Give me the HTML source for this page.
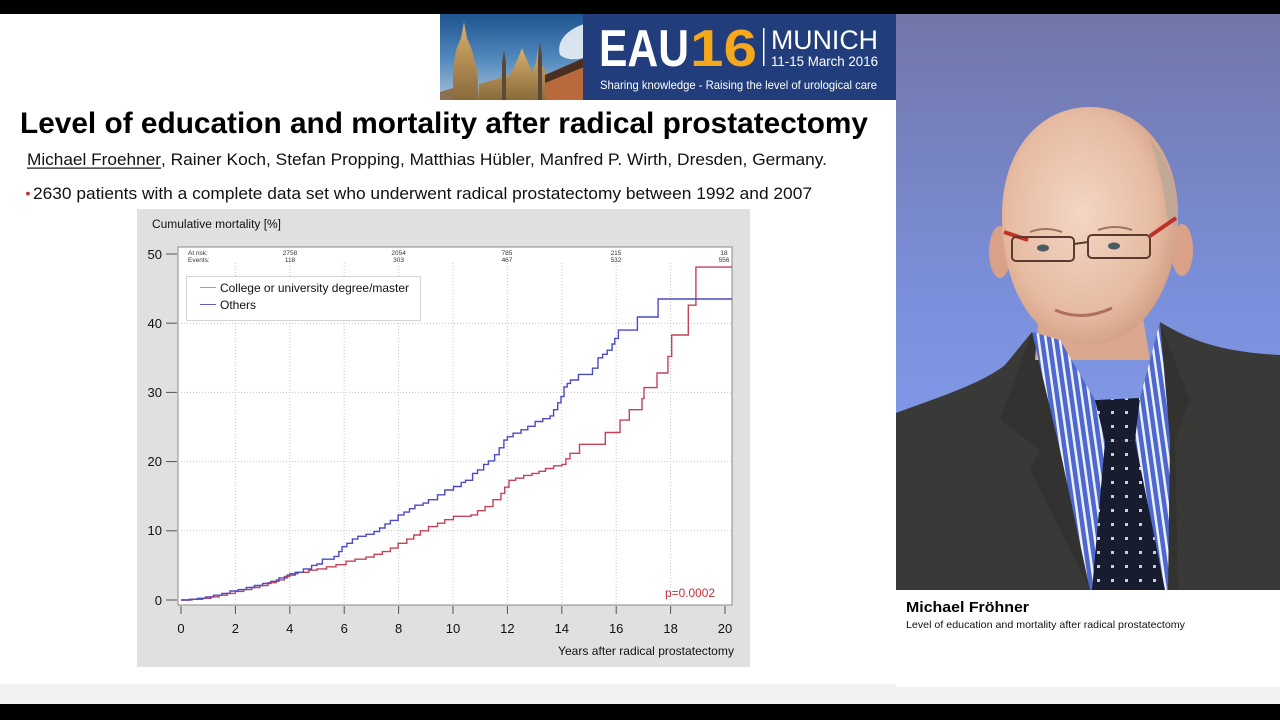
<!DOCTYPE html>
<html><head><meta charset="utf-8"><style>
html,body{margin:0;padding:0;width:1280px;height:720px;overflow:hidden;background:#000;}
svg{display:block;}
</style></head><body>
<svg width="1280" height="720" viewBox="0 0 1280 720" xmlns="http://www.w3.org/2000/svg" font-family="Liberation Sans, Arial, sans-serif">
<defs>
<linearGradient id="sky" x1="0" y1="0" x2="0" y2="1"><stop offset="0" stop-color="#1f5590"/><stop offset="0.5" stop-color="#4f86bb"/><stop offset="1" stop-color="#a8c2da"/></linearGradient>
<linearGradient id="gold" x1="0" y1="0" x2="0" y2="1"><stop offset="0" stop-color="#d9b06a"/><stop offset="1" stop-color="#8a6a3c"/></linearGradient>
<linearGradient id="bg" x1="0" y1="0" x2="0" y2="1"><stop offset="0" stop-color="#7276a8"/><stop offset="0.5" stop-color="#7b90dc"/><stop offset="1" stop-color="#86a2f4"/></linearGradient>
<radialGradient id="skin" cx="0.45" cy="0.45" r="0.6"><stop offset="0" stop-color="#f3d6c4"/><stop offset="0.7" stop-color="#e6bba2"/><stop offset="1" stop-color="#cf9b80"/></radialGradient>
<pattern id="stripe" width="7" height="7" patternUnits="userSpaceOnUse" patternTransform="rotate(-8)"><rect width="7" height="7" fill="#4d68cf"/><rect x="0" width="2.5" height="7" fill="#eef0fa"/></pattern>
<pattern id="tie" width="14" height="14" patternUnits="userSpaceOnUse"><rect width="14" height="14" fill="#171d2e"/><rect x="5" y="5" width="3" height="3" fill="#c8cde0"/></pattern>
</defs>
<!-- backgrounds -->
<rect x="0" y="14" width="1280" height="690" fill="#f2f2f2"/>
<rect x="0" y="14" width="896" height="670" fill="#ffffff"/>
<rect x="896" y="590" width="384" height="97" fill="#ffffff"/>

<!-- banner city -->
<rect x="440" y="14" width="144" height="86" fill="url(#sky)"/>
<path d="M560,55 C556,42 566,30 584,24 L584,58 C575,60 566,60 560,55 Z" fill="#e9eff5" opacity="0.9"/>
<path d="M453,100 L453,70 L456,50 L461,38 L464,22 L467,38 L472,50 L477,70 L479,100 Z" fill="url(#gold)"/>
<path d="M440,100 L440,92 L453,88 L453,100 Z" fill="#8a7050"/>
<path d="M479,100 L479,84 L500,78 L505,66 L507,78 L512,72 L518,58 L522,48 L526,58 L532,72 L536,62 L538,50 L540,62 L545,70 L545,100 Z" fill="url(#gold)"/>
<path d="M502,100 L502,62 L504,50 L506,62 L506,100 Z" fill="#5a4838"/>
<path d="M538,100 L538,55 L540,42 L542,55 L542,100 Z" fill="#5a4838"/>
<path d="M545,75 L584,58 L584,100 L545,100 Z" fill="#b86a3c"/>
<path d="M545,75 L584,58 L584,67 L545,83 Z" fill="#4a2e22"/>
<rect x="583" y="14" width="1" height="86" fill="#2a3f70"/>
<!-- banner blue -->
<rect x="584" y="14" width="312" height="86" fill="#213d7b"/>
<text x="599" y="66" font-size="52" font-weight="bold" fill="#ffffff" textLength="90" lengthAdjust="spacingAndGlyphs">EAU</text>
<text x="690" y="66" font-size="52" font-weight="bold" fill="#f5a81c" textLength="67" lengthAdjust="spacingAndGlyphs">16</text>
<rect x="763" y="28" width="1.5" height="38" fill="#ffffff"/>
<text x="771" y="49" font-size="27" fill="#ffffff" textLength="107" lengthAdjust="spacingAndGlyphs">MUNICH</text>
<text x="771" y="66" font-size="14" fill="#ffffff" textLength="107" lengthAdjust="spacingAndGlyphs">11-15 March 2016</text>
<text x="600" y="89" font-size="12" fill="#ffffff" textLength="277" lengthAdjust="spacingAndGlyphs">Sharing knowledge - Raising the level of urological care</text>

<!-- title / text -->
<text x="20" y="133" font-size="30" font-weight="bold" fill="#000" textLength="848" lengthAdjust="spacingAndGlyphs">Level of education and mortality after radical prostatectomy</text>
<text x="27" y="165" font-size="17" fill="#111" textLength="134" lengthAdjust="spacingAndGlyphs">Michael Froehner</text>
<rect x="27" y="167.5" width="134" height="1.2" fill="#111"/>
<text x="161" y="165" font-size="17" fill="#111" textLength="666" lengthAdjust="spacingAndGlyphs">, Rainer Koch, Stefan Propping, Matthias Hübler, Manfred P. Wirth, Dresden, Germany.</text>
<text x="25.5" y="198" font-size="14" fill="#d0202a">•</text>
<text x="33" y="199" font-size="17" fill="#111" textLength="779" lengthAdjust="spacingAndGlyphs">2630 patients with a complete data set who underwent radical prostatectomy between 1992 and 2007</text>

<!-- chart -->
<rect x="137" y="209" width="613" height="458" fill="#e0e0e0"/>
<text x="152" y="228" font-size="11.5" fill="#111" textLength="129" lengthAdjust="spacingAndGlyphs">Cumulative mortality [%]</text>
<rect x="178" y="247" width="554" height="358" fill="#ffffff" stroke="#8a8a8a" stroke-width="1"/>
<g stroke="#c4c4c4" stroke-width="1" stroke-dasharray="1,2">
<line x1="235.4" y1="263" x2="235.4" y2="605"/>
<line x1="289.8" y1="263" x2="289.8" y2="605"/>
<line x1="344.2" y1="263" x2="344.2" y2="605"/>
<line x1="398.6" y1="263" x2="398.6" y2="605"/>
<line x1="453" y1="263" x2="453" y2="605"/>
<line x1="507.4" y1="263" x2="507.4" y2="605"/>
<line x1="561.8" y1="263" x2="561.8" y2="605"/>
<line x1="616.2" y1="263" x2="616.2" y2="605"/>
<line x1="670.6" y1="263" x2="670.6" y2="605"/>
<line x1="178" y1="530.8" x2="732" y2="530.8"/>
<line x1="178" y1="461.6" x2="732" y2="461.6"/>
<line x1="178" y1="392.4" x2="732" y2="392.4"/>
<line x1="178" y1="323.2" x2="732" y2="323.2"/>
</g>
<g stroke="#555" stroke-width="1">
<line x1="166" y1="254" x2="177" y2="254"/>
<line x1="166" y1="323.2" x2="177" y2="323.2"/>
<line x1="166" y1="392.4" x2="177" y2="392.4"/>
<line x1="166" y1="461.6" x2="177" y2="461.6"/>
<line x1="166" y1="530.8" x2="177" y2="530.8"/>
<line x1="166" y1="600" x2="177" y2="600"/>
<line x1="181" y1="606" x2="181" y2="614"/>
<line x1="235.4" y1="606" x2="235.4" y2="614"/>
<line x1="289.8" y1="606" x2="289.8" y2="614"/>
<line x1="344.2" y1="606" x2="344.2" y2="614"/>
<line x1="398.6" y1="606" x2="398.6" y2="614"/>
<line x1="453" y1="606" x2="453" y2="614"/>
<line x1="507.4" y1="606" x2="507.4" y2="614"/>
<line x1="561.8" y1="606" x2="561.8" y2="614"/>
<line x1="616.2" y1="606" x2="616.2" y2="614"/>
<line x1="670.6" y1="606" x2="670.6" y2="614"/>
<line x1="725" y1="606" x2="725" y2="614"/>
</g>
<g font-size="13" fill="#111" text-anchor="end">
<text x="162" y="259">50</text>
<text x="162" y="328">40</text>
<text x="162" y="397">30</text>
<text x="162" y="466">20</text>
<text x="162" y="535">10</text>
<text x="162" y="605">0</text>
</g>
<g font-size="13" fill="#111" text-anchor="middle">
<text x="181" y="633">0</text>
<text x="235.4" y="633">2</text>
<text x="289.8" y="633">4</text>
<text x="344.2" y="633">6</text>
<text x="398.6" y="633">8</text>
<text x="453" y="633">10</text>
<text x="507.4" y="633">12</text>
<text x="561.8" y="633">14</text>
<text x="616.2" y="633">16</text>
<text x="670.6" y="633">18</text>
<text x="725" y="633">20</text>
</g>
<text x="558" y="655" font-size="12" fill="#111" textLength="176" lengthAdjust="spacingAndGlyphs">Years after radical prostatectomy</text>
<g font-size="6.5" fill="#333">
<text x="188" y="255">At risk:</text>
<text x="188" y="262">Events:</text>
<g text-anchor="middle">
<text x="290" y="255">2758</text><text x="290" y="262">118</text>
<text x="398.6" y="255">2054</text><text x="398.6" y="262">303</text>
<text x="507" y="255">785</text><text x="507" y="262">467</text>
<text x="616" y="255">215</text><text x="616" y="262">532</text>
<text x="724" y="255">18</text><text x="724" y="262">556</text>
</g></g>
<!-- legend -->
<rect x="186.5" y="276.5" width="234" height="44" fill="#ffffff" stroke="#d4d4d4"/>
<line x1="200" y1="287.5" x2="216" y2="287.5" stroke="#b89a9e" stroke-width="1"/>
<line x1="200" y1="304.5" x2="216" y2="304.5" stroke="#5a5ac4" stroke-width="1"/>
<text x="220" y="292" font-size="12" fill="#111" textLength="189" lengthAdjust="spacingAndGlyphs">College or university degree/master</text>
<text x="220" y="309" font-size="12" fill="#111">Others</text>
<!-- curves -->
<path fill="none" stroke="#c2435a" stroke-width="1.4" d="M181,600 H191.9 V599.3 H202.8 V598.3 H210.9 V596.9 H219.1 V595.2 H227.2 V593.4 H235.4 V591.4 H243.6 V589.6 H251.7 V587.5 H259.9 V585.5 H268 V582.7 H276.2 V579.9 H284.4 V576.5 H289.8 V573.7 H298 V572.3 H308.8 V570.2 H317 V568.9 H326.5 V566.8 H336 V564.7 H346.1 V561.2 H355.1 V559.2 H366 V557.1 H374.1 V554.3 H382.3 V551.6 H390.4 V548.1 H398.1 V543.3 H406.8 V539.1 H413.8 V535 H420.4 V530.8 H428.5 V526.6 H437.5 V523.2 H444.8 V519.7 H453.5 V516.3 H471 V514.9 H477.5 V510.7 H485.1 V506.6 H493 V499.7 H500.9 V493.4 H504.7 V487.2 H509 V480.3 H515.6 V478.2 H523.7 V475.4 H531.9 V473.4 H539 V471.3 H545.5 V468.5 H553.6 V465.8 H561.8 V464.4 H565.9 V458.8 H570 V453.3 H579.5 V444.3 H605.3 V432.5 H620 V420.1 H629.3 V409.7 H642 V398.6 H644 V387.6 H657 V373 H667.9 V356.4 H671.7 V335 H688.3 V305.2 H695.9 V267.1 H732"/>
<path fill="none" stroke="#4b4bc4" stroke-width="1.4" d="M181,600 H189.2 V599.3 H197.3 V598.3 H205.5 V596.9 H213.6 V595.2 H221.8 V593.4 H230 V591 H238.1 V589.6 H246.3 V587.5 H254.4 V585.5 H262.6 V583.4 H270.8 V581.3 H278.9 V577.9 H287.1 V575.1 H295.2 V572.3 H303.4 V568.9 H311.6 V565.4 H317 V564 H322.4 V559.2 H334.1 V556.4 H338.8 V551.6 H342 V546.7 H346.9 V543.3 H352.4 V539.1 H357.8 V536.3 H366 V534.3 H374.1 V531.5 H379.6 V528 H385 V523.9 H390.4 V520.4 H398.1 V514.9 H404 V512.1 H409.5 V508.7 H414.9 V505.2 H423.1 V503.1 H428.5 V499.7 H437.5 V494.8 H444.8 V490 H453.5 V486.5 H461.2 V482.4 H465.5 V480.3 H472.6 V473.4 H477.5 V469.9 H483.7 V464.4 H488.4 V460.9 H494.6 V454.7 H499.2 V447.8 H503.9 V440.1 H507.4 V436.7 H513.1 V433.2 H521 V429.8 H527.8 V426.3 H535.1 V421.5 H542.8 V418.7 H550.1 V415.9 H553.6 V409.7 H557.7 V402.8 H561 V396.6 H564 V386.9 H567.2 V383.4 H570.5 V380 H578.4 V374.4 H592.5 V368.2 H598 V357.8 H602.6 V354.3 H607.2 V350.2 H612.1 V344 H614.8 V338.4 H618.4 V330.1 H637.4 V317 H658.1 V299 H732"/>
<text x="665" y="597" font-size="12" fill="#c0303a" textLength="50" lengthAdjust="spacingAndGlyphs">p=0.0002</text>

<!-- photo -->
<rect x="896" y="14" width="384" height="576" fill="url(#bg)"/>
<!-- suit -->
<path d="M896,413 C930,400 980,385 1005,365 L1032,332 L1060,400 L1095,500 L1110,590 L896,590 Z" fill="#393a37"/>
<path d="M1160,322 C1190,340 1220,352 1280,355 L1280,590 L1168,590 L1172,450 Z" fill="#393a37"/>
<path d="M1032,332 L1000,420 L1040,450 L1030,470 L1090,590 L1110,590 L1080,450 Z" fill="#323331"/>
<path d="M1160,322 L1190,400 L1175,440 L1178,590 L1168,590 L1165,440 Z" fill="#323331"/>
<!-- neck -->
<path d="M1040,300 L1140,300 L1150,360 L1035,360 Z" fill="#d9a88e"/>
<!-- shirt -->
<path d="M1032,332 L1060,340 L1095,400 L1140,398 L1160,322 L1170,440 L1168,590 L1090,590 L1060,450 Z" fill="url(#stripe)"/>
<!-- tie -->
<path d="M1095,400 L1140,398 L1135,440 L1105,442 Z" fill="url(#tie)"/>
<path d="M1105,442 L1135,440 L1165,590 L1092,590 Z" fill="url(#tie)"/>
<!-- head -->
<ellipse cx="1000" cy="252" rx="11" ry="26" fill="#d9a288"/>
<ellipse cx="1182" cy="250" rx="11" ry="26" fill="#d9a288"/>
<path d="M1002,215 C1002,150 1040,107 1090,107 C1140,107 1178,150 1178,215 C1178,290 1140,345 1088,345 C1035,345 1002,290 1002,215 Z" fill="url(#skin)"/>
<path d="M1150,140 C1170,160 1178,190 1178,225 L1168,225 C1165,195 1160,170 1150,140 Z" fill="#bba898" opacity="0.8"/>
<!-- glasses -->
<path d="M1004,232 L1028,240" stroke="#c0302a" stroke-width="4"/>
<path d="M1150,236 L1176,218" stroke="#c0302a" stroke-width="4"/>
<rect x="1012" y="237" width="62" height="24" rx="4" fill="none" stroke="#5a3a30" stroke-width="2"/>
<rect x="1088" y="235" width="62" height="23" rx="4" fill="none" stroke="#5a3a30" stroke-width="2"/>
<path d="M1074,244 L1088,242" stroke="#5a3a30" stroke-width="2"/>
<ellipse cx="1043" cy="248" rx="6" ry="3.5" fill="#4a5a60"/>
<ellipse cx="1114" cy="246" rx="6" ry="3.5" fill="#4a5a60"/>
<path d="M1030,232 Q1045,226 1062,232 M1098,230 Q1115,224 1132,230" stroke="#a07060" stroke-width="2" fill="none"/>
<path d="M1055,310 Q1082,322 1112,308" stroke="#b07060" stroke-width="3" fill="none"/>

<!-- caption -->
<text x="906" y="612" font-size="14.5" font-weight="bold" fill="#000" textLength="123" lengthAdjust="spacingAndGlyphs">Michael Fröhner</text>
<text x="906" y="628" font-size="10.5" fill="#111" textLength="279" lengthAdjust="spacingAndGlyphs">Level of education and mortality after radical prostatectomy</text>
</svg>
</body></html>
